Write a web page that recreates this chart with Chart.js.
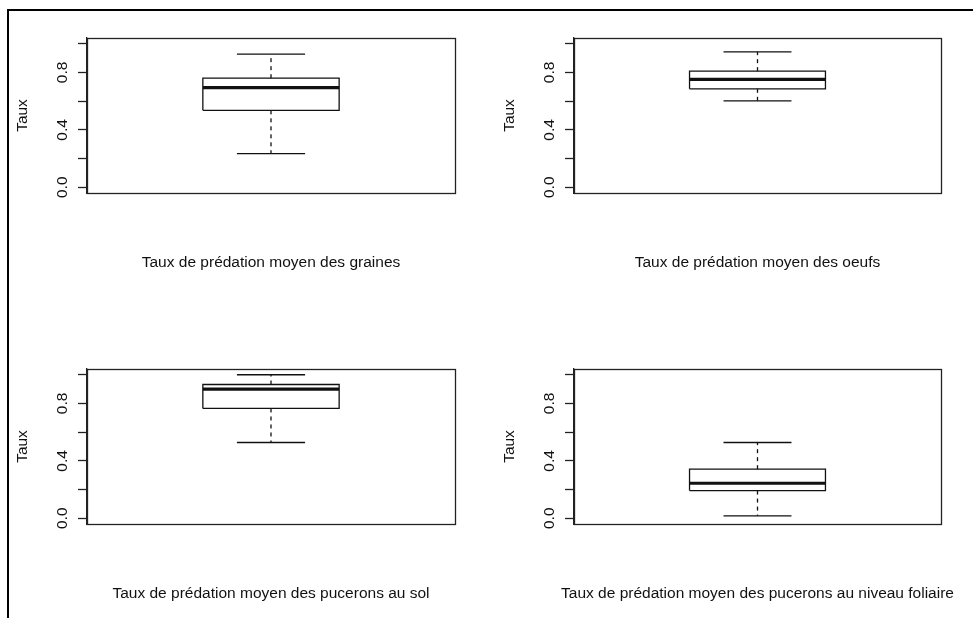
<!DOCTYPE html>
<html>
<head>
<meta charset="utf-8">
<script src="https://cdn.jsdelivr.net/npm/chart.js@4.4.1/dist/chart.umd.min.js"></script>
<style>
  html, body { margin: 0; padding: 0; background: #fff; width: 973px; height: 618px; overflow: hidden; }
  #frame { position: absolute; left: 7px; top: 9px; width: 990px; height: 640px;
           border-left: 2px solid #000; border-top: 2px solid #000; }
  .panel { position: absolute; }
  canvas { display: block; }
</style>
</head>
<body>
<div id="frame"></div>
<div class="panel" style="left:0px;top:0px"><canvas id="p0" width="487" height="331"></canvas></div>
<div class="panel" style="left:487px;top:0px"><canvas id="p1" width="486" height="331"></canvas></div>
<div class="panel" style="left:0px;top:331px"><canvas id="p2" width="487" height="287"></canvas></div>
<div class="panel" style="left:487px;top:331px"><canvas id="p3" width="486" height="287"></canvas></div>

<script>
// Boxplot summaries of the mean predation rate, one box per panel
const panelTitles = [
  'Taux de prédation moyen des graines',
  'Taux de prédation moyen des oeufs',
  'Taux de prédation moyen des pucerons au sol',
  'Taux de prédation moyen des pucerons au niveau foliaire'
];
const whiskerLow    = [0.235, 0.602, 0.528, 0.017];
const quartileLow   = [0.536, 0.686, 0.765, 0.193];
const medians       = [0.694, 0.752, 0.900, 0.244];
const quartileHigh  = [0.760, 0.809, 0.932, 0.342];
const whiskerHigh   = [0.927, 0.944, 1.000, 0.528];

const yTickValues = [0, 0.2, 0.4, 0.6, 0.8, 1.0];
const yTickLabels = ['0.0', '', '0.4', '', '0.8', ''];
const yAxisTitle = 'Taux';

const FONT = '15.5px "Liberation Sans", Arial, sans-serif';
const INK = '#111';
const LINE = 1.3;

// geometry of one panel (pixels inside its canvas)
const AREA_LEFT = 87, AREA_TOP = 38, AREA_H = 155, RIGHT_PAD = 32;
const BOX_HALF = 0.2, CAP_HALF = 0.1, CENTER = 1;

// frame, rotated tick labels, y title and caption
const panelText = {
  id: 'panelText',
  afterDraw(chart, args, opts) {
    const { ctx, chartArea: a } = chart;
    const y = chart.scales.y;
    ctx.save();
    ctx.strokeStyle = '#222';
    ctx.lineWidth = LINE;
    ctx.strokeRect(Math.round(a.left) + 0.5, Math.round(a.top) + 0.5,
                   Math.round(a.right - a.left), Math.round(a.bottom - a.top));
    ctx.fillStyle = INK;
    ctx.font = FONT;
    ctx.textAlign = 'center';
    ctx.textBaseline = 'alphabetic';
    yTickValues.forEach((v, i) => {
      if (!yTickLabels[i]) return;
      ctx.save();
      ctx.translate(a.left - 20.5, y.getPixelForValue(v));
      ctx.rotate(-Math.PI / 2);
      ctx.fillText(yTickLabels[i], 0, 0);
      ctx.restore();
    });
    ctx.save();
    ctx.translate(a.left - 60.5, (a.top + a.bottom) / 2);
    ctx.rotate(-Math.PI / 2);
    ctx.fillText(yAxisTitle, 0, 0);
    ctx.restore();
    ctx.fillText(opts.title, (a.left + a.right) / 2, a.bottom + 73.5);
    ctx.restore();
  }
};

function seg(points, width, dash) {
  return {
    data: points,
    borderColor: INK,
    borderWidth: width,
    borderDash: dash || [],
    borderCapStyle: 'butt',
    pointRadius: 0,
    fill: false,
    tension: 0
  };
}

function boxDatasets(i) {
  const lo = whiskerLow[i], q1 = quartileLow[i], md = medians[i],
        q3 = quartileHigh[i], hi = whiskerHigh[i];
  const bl = CENTER - BOX_HALF, br = CENTER + BOX_HALF;
  const cl = CENTER - CAP_HALF, cr = CENTER + CAP_HALF;
  return [
    seg([{x: CENTER, y: q3}, {x: CENTER, y: hi}], LINE, [4, 4]),
    seg([{x: CENTER, y: q1}, {x: CENTER, y: lo}], LINE, [4, 4]),
    seg([{x: cl, y: hi}, {x: cr, y: hi}], LINE),
    seg([{x: cl, y: lo}, {x: cr, y: lo}], LINE),
    seg([{x: bl, y: q1}, {x: br, y: q1}, {x: br, y: q3}, {x: bl, y: q3}, {x: bl, y: q1}], LINE),
    seg([{x: bl, y: md}, {x: br, y: md}], 3.2)
  ];
}

panelTitles.forEach((title, i) => {
  const canvas = document.getElementById('p' + i);
  const H = canvas.height;
  new Chart(canvas, {
    type: 'line',
    data: { datasets: boxDatasets(i) },
    options: {
      responsive: false,
      animation: false,
      events: [],
      layout: { padding: { top: AREA_TOP, right: RIGHT_PAD, left: 0, bottom: 0 } },
      plugins: {
        legend: { display: false },
        tooltip: { enabled: false },
        panelText: { title }
      },
      scales: {
        x: {
          type: 'linear',
          min: 0.46, max: 1.54,
          ticks: { display: false },
          grid: { display: false },
          border: { display: false },
          afterFit: s => { s.height = H - AREA_TOP - AREA_H; }
        },
        y: {
          type: 'linear',
          min: -0.04, max: 1.04,
          afterBuildTicks: s => { s.ticks = yTickValues.map(v => ({ value: v })); },
          ticks: { display: false },
          grid: { drawOnChartArea: false, drawTicks: true, tickLength: 9,
                  tickWidth: LINE, tickColor: '#222', color: '#222' },
          border: { display: true, color: '#222', width: LINE },
          afterFit: s => { s.width = AREA_LEFT; }
        }
      }
    },
    plugins: [panelText]
  });
});
</script>
</body>
</html>
